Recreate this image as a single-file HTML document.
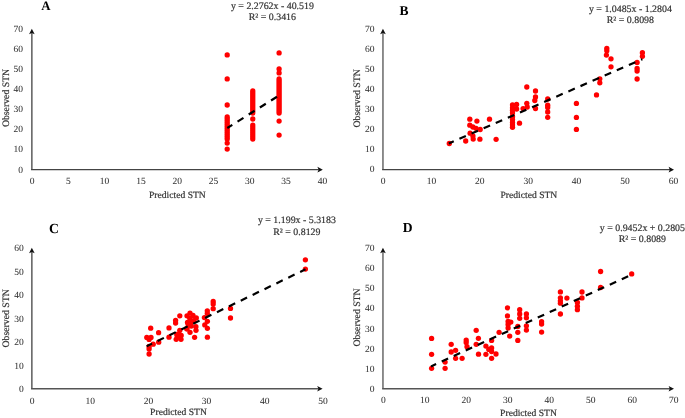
<!DOCTYPE html><html><head><meta charset="utf-8"><style>html,body{margin:0;padding:0;background:#fff;width:685px;height:418px;overflow:hidden}svg{display:block;will-change:transform}text{font-family:"Liberation Serif",serif;text-rendering:geometricPrecision}.t{fill:#333;stroke:#333;stroke-width:0.2px}.k{stroke-width:0.05px}.l{fill:#000;font-weight:bold}</style></head><body>
<svg width="685" height="418" viewBox="0 0 685 418">
<text class="t k" x="23.0" y="172.5" font-size="9.5" text-anchor="end">0</text>
<text class="t k" x="23.0" y="152.4" font-size="9.5" text-anchor="end">10</text>
<text class="t k" x="23.0" y="132.4" font-size="9.5" text-anchor="end">20</text>
<text class="t k" x="23.0" y="112.3" font-size="9.5" text-anchor="end">30</text>
<text class="t k" x="23.0" y="92.3" font-size="9.5" text-anchor="end">40</text>
<text class="t k" x="23.0" y="72.2" font-size="9.5" text-anchor="end">50</text>
<text class="t k" x="23.0" y="52.1" font-size="9.5" text-anchor="end">60</text>
<text class="t k" x="23.0" y="32.1" font-size="9.5" text-anchor="end">70</text>
<text class="t k" x="32.0" y="183.6" font-size="9.5" text-anchor="middle">0</text>
<text class="t k" x="68.3" y="183.6" font-size="9.5" text-anchor="middle">5</text>
<text class="t k" x="104.6" y="183.6" font-size="9.5" text-anchor="middle">10</text>
<text class="t k" x="140.9" y="183.6" font-size="9.5" text-anchor="middle">15</text>
<text class="t k" x="177.2" y="183.6" font-size="9.5" text-anchor="middle">20</text>
<text class="t k" x="213.5" y="183.6" font-size="9.5" text-anchor="middle">25</text>
<text class="t k" x="249.8" y="183.6" font-size="9.5" text-anchor="middle">30</text>
<text class="t k" x="286.1" y="183.6" font-size="9.5" text-anchor="middle">35</text>
<text class="t k" x="322.4" y="183.6" font-size="9.5" text-anchor="middle">40</text>
<text class="t" x="177.4" y="198.3" font-size="9.6" text-anchor="middle">Predicted STN</text>
<text class="t" transform="translate(8.8,98.0) rotate(-90)" font-size="9.75" text-anchor="middle">Observed STN</text>
<text class="l" x="41.20" y="9.70" font-size="12.9">A</text>
<text class="t" x="272.4" y="8.9" font-size="9.9" text-anchor="middle">y = 2.2762x - 40.519</text>
<text class="t" x="272.4" y="19.6" font-size="9.9" text-anchor="middle">R² = 0.3416</text>
<circle cx="227.2" cy="149.1" r="2.65" fill="#f00"/>
<circle cx="227.2" cy="143.1" r="2.65" fill="#f00"/>
<circle cx="227.2" cy="139.1" r="2.65" fill="#f00"/>
<circle cx="227.2" cy="137.1" r="2.65" fill="#f00"/>
<circle cx="227.2" cy="135.1" r="2.65" fill="#f00"/>
<circle cx="227.2" cy="133.1" r="2.65" fill="#f00"/>
<circle cx="227.2" cy="131.1" r="2.65" fill="#f00"/>
<circle cx="227.2" cy="129.1" r="2.65" fill="#f00"/>
<circle cx="227.2" cy="127.1" r="2.65" fill="#f00"/>
<circle cx="227.2" cy="125.1" r="2.65" fill="#f00"/>
<circle cx="227.2" cy="123.1" r="2.65" fill="#f00"/>
<circle cx="227.2" cy="121.1" r="2.65" fill="#f00"/>
<circle cx="227.2" cy="119.0" r="2.65" fill="#f00"/>
<circle cx="227.2" cy="117.0" r="2.65" fill="#f00"/>
<circle cx="227.2" cy="105.0" r="2.65" fill="#f00"/>
<circle cx="227.2" cy="78.9" r="2.65" fill="#f00"/>
<circle cx="227.2" cy="54.9" r="2.65" fill="#f00"/>
<circle cx="252.8" cy="139.1" r="2.65" fill="#f00"/>
<circle cx="252.8" cy="137.1" r="2.65" fill="#f00"/>
<circle cx="252.8" cy="135.1" r="2.65" fill="#f00"/>
<circle cx="252.8" cy="133.1" r="2.65" fill="#f00"/>
<circle cx="252.8" cy="131.1" r="2.65" fill="#f00"/>
<circle cx="252.8" cy="129.1" r="2.65" fill="#f00"/>
<circle cx="252.8" cy="127.1" r="2.65" fill="#f00"/>
<circle cx="252.8" cy="125.1" r="2.65" fill="#f00"/>
<circle cx="252.8" cy="119.0" r="2.65" fill="#f00"/>
<circle cx="252.8" cy="113.0" r="2.65" fill="#f00"/>
<circle cx="252.8" cy="111.0" r="2.65" fill="#f00"/>
<circle cx="252.8" cy="109.0" r="2.65" fill="#f00"/>
<circle cx="252.8" cy="107.0" r="2.65" fill="#f00"/>
<circle cx="252.8" cy="105.0" r="2.65" fill="#f00"/>
<circle cx="252.8" cy="103.0" r="2.65" fill="#f00"/>
<circle cx="252.8" cy="101.0" r="2.65" fill="#f00"/>
<circle cx="252.8" cy="99.0" r="2.65" fill="#f00"/>
<circle cx="252.8" cy="97.0" r="2.65" fill="#f00"/>
<circle cx="252.8" cy="95.0" r="2.65" fill="#f00"/>
<circle cx="252.8" cy="93.0" r="2.65" fill="#f00"/>
<circle cx="252.8" cy="91.0" r="2.65" fill="#f00"/>
<circle cx="279.1" cy="135.1" r="2.65" fill="#f00"/>
<circle cx="279.1" cy="121.1" r="2.65" fill="#f00"/>
<circle cx="279.1" cy="113.0" r="2.65" fill="#f00"/>
<circle cx="279.1" cy="111.0" r="2.65" fill="#f00"/>
<circle cx="279.1" cy="109.0" r="2.65" fill="#f00"/>
<circle cx="279.1" cy="107.0" r="2.65" fill="#f00"/>
<circle cx="279.1" cy="105.0" r="2.65" fill="#f00"/>
<circle cx="279.1" cy="103.0" r="2.65" fill="#f00"/>
<circle cx="279.1" cy="101.0" r="2.65" fill="#f00"/>
<circle cx="279.1" cy="99.0" r="2.65" fill="#f00"/>
<circle cx="279.1" cy="97.0" r="2.65" fill="#f00"/>
<circle cx="279.1" cy="95.0" r="2.65" fill="#f00"/>
<circle cx="279.1" cy="93.0" r="2.65" fill="#f00"/>
<circle cx="279.1" cy="91.0" r="2.65" fill="#f00"/>
<circle cx="279.1" cy="89.0" r="2.65" fill="#f00"/>
<circle cx="279.1" cy="87.0" r="2.65" fill="#f00"/>
<circle cx="279.1" cy="84.9" r="2.65" fill="#f00"/>
<circle cx="279.1" cy="82.9" r="2.65" fill="#f00"/>
<circle cx="279.1" cy="80.9" r="2.65" fill="#f00"/>
<circle cx="279.1" cy="78.9" r="2.65" fill="#f00"/>
<circle cx="279.1" cy="72.9" r="2.65" fill="#f00"/>
<circle cx="279.1" cy="68.9" r="2.65" fill="#f00"/>
<circle cx="279.1" cy="52.9" r="2.65" fill="#f00"/>
<line x1="227.3" y1="128.0" x2="278.8" y2="95.6" stroke="#000" stroke-width="2.2" stroke-dasharray="7,6.2" stroke-dashoffset="1.1"/>
<line x1="31.85" y1="169.65" x2="31.85" y2="32.8" stroke="#666" stroke-width="1.6"/>
<line x1="31.05" y1="169.65" x2="318.8" y2="169.65" stroke="#444" stroke-width="1.4"/>
<path d="M31.85,28.80 L34.65,34.20 L31.85,33.00 L29.05,34.20 Z" fill="#111"/>
<path d="M322.80,169.65 L317.40,166.85 L318.60,169.65 L317.40,172.45 Z" fill="#111"/>
<text class="t k" x="374.5" y="172.4" font-size="9.5" text-anchor="end">0</text>
<text class="t k" x="374.5" y="152.3" font-size="9.5" text-anchor="end">10</text>
<text class="t k" x="374.5" y="132.3" font-size="9.5" text-anchor="end">20</text>
<text class="t k" x="374.5" y="112.2" font-size="9.5" text-anchor="end">30</text>
<text class="t k" x="374.5" y="92.2" font-size="9.5" text-anchor="end">40</text>
<text class="t k" x="374.5" y="72.1" font-size="9.5" text-anchor="end">50</text>
<text class="t k" x="374.5" y="52.0" font-size="9.5" text-anchor="end">60</text>
<text class="t k" x="374.5" y="32.0" font-size="9.5" text-anchor="end">70</text>
<text class="t k" x="383.0" y="184.4" font-size="9.5" text-anchor="middle">0</text>
<text class="t k" x="431.4" y="184.4" font-size="9.5" text-anchor="middle">10</text>
<text class="t k" x="479.8" y="184.4" font-size="9.5" text-anchor="middle">20</text>
<text class="t k" x="528.2" y="184.4" font-size="9.5" text-anchor="middle">30</text>
<text class="t k" x="576.6" y="184.4" font-size="9.5" text-anchor="middle">40</text>
<text class="t k" x="625.0" y="184.4" font-size="9.5" text-anchor="middle">50</text>
<text class="t k" x="673.4" y="184.4" font-size="9.5" text-anchor="middle">60</text>
<text class="t" x="528.9" y="198.3" font-size="9.6" text-anchor="middle">Predicted STN</text>
<text class="t" transform="translate(360.1,98.4) rotate(-90)" font-size="9.75" text-anchor="middle">Observed STN</text>
<text class="l" x="399.60" y="14.80" font-size="13.5">B</text>
<text class="t" x="630.4" y="12.3" font-size="9.9" text-anchor="middle">y = 1.0485x - 1.2804</text>
<text class="t" x="630.4" y="23.3" font-size="9.9" text-anchor="middle">R² = 0.8098</text>
<circle cx="449.3" cy="143.5" r="2.65" fill="#f00"/>
<circle cx="465.7" cy="141.0" r="2.65" fill="#f00"/>
<circle cx="469.8" cy="119.2" r="2.65" fill="#f00"/>
<circle cx="476.9" cy="121.1" r="2.65" fill="#f00"/>
<circle cx="469.8" cy="125.2" r="2.65" fill="#f00"/>
<circle cx="472.9" cy="127.0" r="2.65" fill="#f00"/>
<circle cx="476.0" cy="128.3" r="2.65" fill="#f00"/>
<circle cx="480.2" cy="129.5" r="2.65" fill="#f00"/>
<circle cx="470.1" cy="133.2" r="2.65" fill="#f00"/>
<circle cx="472.9" cy="136.0" r="2.65" fill="#f00"/>
<circle cx="473.2" cy="139.1" r="2.65" fill="#f00"/>
<circle cx="479.9" cy="139.2" r="2.65" fill="#f00"/>
<circle cx="489.5" cy="119.2" r="2.65" fill="#f00"/>
<circle cx="496.1" cy="139.3" r="2.65" fill="#f00"/>
<circle cx="512.5" cy="104.9" r="2.65" fill="#f00"/>
<circle cx="512.5" cy="107.8" r="2.65" fill="#f00"/>
<circle cx="512.5" cy="110.2" r="2.65" fill="#f00"/>
<circle cx="512.5" cy="113.0" r="2.65" fill="#f00"/>
<circle cx="512.5" cy="116.7" r="2.65" fill="#f00"/>
<circle cx="512.5" cy="119.6" r="2.65" fill="#f00"/>
<circle cx="512.5" cy="122.4" r="2.65" fill="#f00"/>
<circle cx="512.5" cy="124.9" r="2.65" fill="#f00"/>
<circle cx="512.5" cy="127.3" r="2.65" fill="#f00"/>
<circle cx="516.6" cy="104.5" r="2.65" fill="#f00"/>
<circle cx="516.6" cy="109.0" r="2.65" fill="#f00"/>
<circle cx="519.5" cy="123.2" r="2.65" fill="#f00"/>
<circle cx="523.1" cy="108.6" r="2.65" fill="#f00"/>
<circle cx="526.8" cy="103.3" r="2.65" fill="#f00"/>
<circle cx="527.2" cy="107.0" r="2.65" fill="#f00"/>
<circle cx="526.8" cy="87.0" r="2.65" fill="#f00"/>
<circle cx="535.5" cy="91.0" r="2.65" fill="#f00"/>
<circle cx="535.5" cy="97.0" r="2.65" fill="#f00"/>
<circle cx="535.5" cy="108.5" r="2.65" fill="#f00"/>
<circle cx="534.8" cy="100.5" r="2.65" fill="#f00"/>
<circle cx="547.7" cy="98.9" r="2.65" fill="#f00"/>
<circle cx="547.7" cy="105.2" r="2.65" fill="#f00"/>
<circle cx="547.7" cy="107.5" r="2.65" fill="#f00"/>
<circle cx="547.7" cy="112.0" r="2.65" fill="#f00"/>
<circle cx="547.7" cy="117.3" r="2.65" fill="#f00"/>
<circle cx="576.4" cy="103.4" r="2.65" fill="#f00"/>
<circle cx="576.4" cy="117.4" r="2.65" fill="#f00"/>
<circle cx="576.4" cy="129.4" r="2.65" fill="#f00"/>
<circle cx="596.5" cy="94.9" r="2.65" fill="#f00"/>
<circle cx="599.8" cy="78.8" r="2.65" fill="#f00"/>
<circle cx="599.8" cy="82.8" r="2.65" fill="#f00"/>
<circle cx="606.8" cy="48.4" r="2.65" fill="#f00"/>
<circle cx="606.8" cy="50.8" r="2.65" fill="#f00"/>
<circle cx="606.4" cy="55.1" r="2.65" fill="#f00"/>
<circle cx="611.0" cy="58.8" r="2.65" fill="#f00"/>
<circle cx="611.0" cy="66.8" r="2.65" fill="#f00"/>
<circle cx="642.4" cy="52.7" r="2.65" fill="#f00"/>
<circle cx="642.4" cy="56.3" r="2.65" fill="#f00"/>
<circle cx="637.1" cy="62.4" r="2.65" fill="#f00"/>
<circle cx="637.1" cy="68.4" r="2.65" fill="#f00"/>
<circle cx="637.1" cy="71.0" r="2.65" fill="#f00"/>
<circle cx="637.1" cy="79.0" r="2.65" fill="#f00"/>
<line x1="448.8" y1="143.4" x2="642.4" y2="59.2" stroke="#000" stroke-width="2.2" stroke-dasharray="7,6.2" stroke-dashoffset="1.6"/>
<line x1="382.95" y1="169.65" x2="382.95" y2="32.9" stroke="#727272" stroke-width="1.6"/>
<line x1="382.15" y1="169.65" x2="670.0" y2="169.65" stroke="#444" stroke-width="1.4"/>
<path d="M382.95,28.85 L385.75,34.25 L382.95,33.05 L380.15,34.25 Z" fill="#111"/>
<path d="M674.00,169.65 L668.60,166.85 L669.80,169.65 L668.60,172.45 Z" fill="#111"/>
<text class="t k" x="23.8" y="392.0" font-size="9.5" text-anchor="end">0</text>
<text class="t k" x="23.8" y="368.5" font-size="9.5" text-anchor="end">10</text>
<text class="t k" x="23.8" y="345.0" font-size="9.5" text-anchor="end">20</text>
<text class="t k" x="23.8" y="321.6" font-size="9.5" text-anchor="end">30</text>
<text class="t k" x="23.8" y="298.1" font-size="9.5" text-anchor="end">40</text>
<text class="t k" x="23.8" y="274.6" font-size="9.5" text-anchor="end">50</text>
<text class="t k" x="23.8" y="251.1" font-size="9.5" text-anchor="end">60</text>
<text class="t k" x="32.0" y="403.5" font-size="9.5" text-anchor="middle">0</text>
<text class="t k" x="90.2" y="403.5" font-size="9.5" text-anchor="middle">10</text>
<text class="t k" x="148.4" y="403.5" font-size="9.5" text-anchor="middle">20</text>
<text class="t k" x="206.6" y="403.5" font-size="9.5" text-anchor="middle">30</text>
<text class="t k" x="264.8" y="403.5" font-size="9.5" text-anchor="middle">40</text>
<text class="t k" x="323.0" y="403.5" font-size="9.5" text-anchor="middle">50</text>
<text class="t" x="178.5" y="415.4" font-size="9.6" text-anchor="middle">Predicted STN</text>
<text class="t" transform="translate(8.8,318.4) rotate(-90)" font-size="9.75" text-anchor="middle">Observed STN</text>
<text class="l" x="49.00" y="232.50" font-size="13.8">C</text>
<text class="t" x="296.9" y="223.0" font-size="9.9" text-anchor="middle">y = 1.199x - 5.3183</text>
<text class="t" x="296.9" y="234.6" font-size="9.9" text-anchor="middle">R² = 0.8129</text>
<circle cx="149.1" cy="354.0" r="2.65" fill="#f00"/>
<circle cx="149.1" cy="349.0" r="2.65" fill="#f00"/>
<circle cx="149.1" cy="346.5" r="2.65" fill="#f00"/>
<circle cx="153.2" cy="344.2" r="2.65" fill="#f00"/>
<circle cx="158.7" cy="342.2" r="2.65" fill="#f00"/>
<circle cx="146.8" cy="337.4" r="2.65" fill="#f00"/>
<circle cx="151.0" cy="337.4" r="2.65" fill="#f00"/>
<circle cx="149.1" cy="339.4" r="2.65" fill="#f00"/>
<circle cx="150.7" cy="328.2" r="2.65" fill="#f00"/>
<circle cx="158.6" cy="332.7" r="2.65" fill="#f00"/>
<circle cx="169.0" cy="327.9" r="2.65" fill="#f00"/>
<circle cx="169.0" cy="337.2" r="2.65" fill="#f00"/>
<circle cx="179.8" cy="315.8" r="2.65" fill="#f00"/>
<circle cx="175.6" cy="320.4" r="2.65" fill="#f00"/>
<circle cx="175.6" cy="323.1" r="2.65" fill="#f00"/>
<circle cx="179.8" cy="330.3" r="2.65" fill="#f00"/>
<circle cx="176.8" cy="334.5" r="2.65" fill="#f00"/>
<circle cx="176.2" cy="339.3" r="2.65" fill="#f00"/>
<circle cx="181.0" cy="339.3" r="2.65" fill="#f00"/>
<circle cx="179.8" cy="336.3" r="2.65" fill="#f00"/>
<circle cx="190.0" cy="313.2" r="2.65" fill="#f00"/>
<circle cx="187.0" cy="315.8" r="2.65" fill="#f00"/>
<circle cx="193.0" cy="315.4" r="2.65" fill="#f00"/>
<circle cx="196.3" cy="318.0" r="2.65" fill="#f00"/>
<circle cx="187.5" cy="322.5" r="2.65" fill="#f00"/>
<circle cx="191.1" cy="322.5" r="2.65" fill="#f00"/>
<circle cx="195.9" cy="326.7" r="2.65" fill="#f00"/>
<circle cx="187.0" cy="329.1" r="2.65" fill="#f00"/>
<circle cx="190.0" cy="332.3" r="2.65" fill="#f00"/>
<circle cx="196.0" cy="330.3" r="2.65" fill="#f00"/>
<circle cx="194.6" cy="337.3" r="2.65" fill="#f00"/>
<circle cx="204.4" cy="317.6" r="2.65" fill="#f00"/>
<circle cx="207.3" cy="310.8" r="2.65" fill="#f00"/>
<circle cx="207.3" cy="313.5" r="2.65" fill="#f00"/>
<circle cx="207.4" cy="321.3" r="2.65" fill="#f00"/>
<circle cx="204.8" cy="324.9" r="2.65" fill="#f00"/>
<circle cx="207.4" cy="328.3" r="2.65" fill="#f00"/>
<circle cx="207.4" cy="337.2" r="2.65" fill="#f00"/>
<circle cx="213.2" cy="301.5" r="2.65" fill="#f00"/>
<circle cx="213.2" cy="304.0" r="2.65" fill="#f00"/>
<circle cx="213.2" cy="308.7" r="2.65" fill="#f00"/>
<circle cx="230.5" cy="308.4" r="2.65" fill="#f00"/>
<circle cx="230.5" cy="318.0" r="2.65" fill="#f00"/>
<circle cx="305.4" cy="259.8" r="2.65" fill="#f00"/>
<circle cx="305.4" cy="269.1" r="2.65" fill="#f00"/>
<circle cx="189.8" cy="318.3" r="2.65" fill="#f00"/>
<circle cx="188.2" cy="324.5" r="2.65" fill="#f00"/>
<circle cx="186.7" cy="328.4" r="2.65" fill="#f00"/>
<circle cx="191.3" cy="326.1" r="2.65" fill="#f00"/>
<circle cx="193.6" cy="320.7" r="2.65" fill="#f00"/>
<circle cx="178.9" cy="333.9" r="2.65" fill="#f00"/>
<circle cx="177.3" cy="337.0" r="2.65" fill="#f00"/>
<circle cx="181.2" cy="335.4" r="2.65" fill="#f00"/>
<circle cx="178.1" cy="334.7" r="2.65" fill="#f00"/>
<line x1="146.7" y1="346.2" x2="305.5" y2="269.3" stroke="#000" stroke-width="2.2" stroke-dasharray="7,6.2" stroke-dashoffset="1.1"/>
<line x1="31.85" y1="388.80" x2="31.85" y2="251.8" stroke="#666" stroke-width="1.6"/>
<line x1="31.05" y1="388.80" x2="318.6" y2="388.80" stroke="#555" stroke-width="1.6"/>
<path d="M31.85,247.80 L34.65,253.20 L31.85,252.00 L29.05,253.20 Z" fill="#111"/>
<path d="M322.60,388.80 L317.20,386.00 L318.40,388.80 L317.20,391.60 Z" fill="#111"/>
<text class="t k" x="374.5" y="391.8" font-size="9.5" text-anchor="end">0</text>
<text class="t k" x="374.5" y="371.7" font-size="9.5" text-anchor="end">10</text>
<text class="t k" x="374.5" y="351.6" font-size="9.5" text-anchor="end">20</text>
<text class="t k" x="374.5" y="331.5" font-size="9.5" text-anchor="end">30</text>
<text class="t k" x="374.5" y="311.4" font-size="9.5" text-anchor="end">40</text>
<text class="t k" x="374.5" y="291.3" font-size="9.5" text-anchor="end">50</text>
<text class="t k" x="374.5" y="271.2" font-size="9.5" text-anchor="end">60</text>
<text class="t k" x="374.5" y="251.1" font-size="9.5" text-anchor="end">70</text>
<text class="t k" x="383.3" y="403.1" font-size="9.5" text-anchor="middle">0</text>
<text class="t k" x="424.8" y="403.1" font-size="9.5" text-anchor="middle">10</text>
<text class="t k" x="466.3" y="403.1" font-size="9.5" text-anchor="middle">20</text>
<text class="t k" x="507.8" y="403.1" font-size="9.5" text-anchor="middle">30</text>
<text class="t k" x="549.3" y="403.1" font-size="9.5" text-anchor="middle">40</text>
<text class="t k" x="590.8" y="403.1" font-size="9.5" text-anchor="middle">50</text>
<text class="t k" x="632.3" y="403.1" font-size="9.5" text-anchor="middle">60</text>
<text class="t k" x="673.8" y="403.1" font-size="9.5" text-anchor="middle">70</text>
<text class="t" x="528.5" y="416.3" font-size="9.6" text-anchor="middle">Predicted STN</text>
<text class="t" transform="translate(360.2,317.5) rotate(-90)" font-size="9.75" text-anchor="middle">Observed STN</text>
<text class="l" x="402.75" y="231.60" font-size="13.6">D</text>
<text class="t" x="642.4" y="230.7" font-size="9.9" text-anchor="middle">y = 0.9452x + 0.2805</text>
<text class="t" x="642.4" y="241.8" font-size="9.9" text-anchor="middle">R² = 0.8089</text>
<circle cx="431.6" cy="338.4" r="2.65" fill="#f00"/>
<circle cx="431.6" cy="354.3" r="2.65" fill="#f00"/>
<circle cx="431.6" cy="368.3" r="2.65" fill="#f00"/>
<circle cx="445.1" cy="362.1" r="2.65" fill="#f00"/>
<circle cx="445.1" cy="368.3" r="2.65" fill="#f00"/>
<circle cx="451.2" cy="344.3" r="2.65" fill="#f00"/>
<circle cx="451.2" cy="352.0" r="2.65" fill="#f00"/>
<circle cx="455.6" cy="350.3" r="2.65" fill="#f00"/>
<circle cx="455.6" cy="358.3" r="2.65" fill="#f00"/>
<circle cx="462.1" cy="358.3" r="2.65" fill="#f00"/>
<circle cx="466.2" cy="340.1" r="2.65" fill="#f00"/>
<circle cx="466.2" cy="342.4" r="2.65" fill="#f00"/>
<circle cx="467.0" cy="346.7" r="2.65" fill="#f00"/>
<circle cx="476.2" cy="330.3" r="2.65" fill="#f00"/>
<circle cx="478.4" cy="338.3" r="2.65" fill="#f00"/>
<circle cx="476.2" cy="344.3" r="2.65" fill="#f00"/>
<circle cx="478.5" cy="354.2" r="2.65" fill="#f00"/>
<circle cx="485.9" cy="346.1" r="2.65" fill="#f00"/>
<circle cx="485.9" cy="354.3" r="2.65" fill="#f00"/>
<circle cx="491.6" cy="340.4" r="2.65" fill="#f00"/>
<circle cx="491.6" cy="347.9" r="2.65" fill="#f00"/>
<circle cx="491.6" cy="351.5" r="2.65" fill="#f00"/>
<circle cx="496.0" cy="354.0" r="2.65" fill="#f00"/>
<circle cx="491.6" cy="358.3" r="2.65" fill="#f00"/>
<circle cx="488.8" cy="349.4" r="2.65" fill="#f00"/>
<circle cx="499.1" cy="332.3" r="2.65" fill="#f00"/>
<circle cx="507.5" cy="307.8" r="2.65" fill="#f00"/>
<circle cx="507.5" cy="315.9" r="2.65" fill="#f00"/>
<circle cx="508.1" cy="321.5" r="2.65" fill="#f00"/>
<circle cx="510.8" cy="322.1" r="2.65" fill="#f00"/>
<circle cx="508.1" cy="324.5" r="2.65" fill="#f00"/>
<circle cx="508.1" cy="328.0" r="2.65" fill="#f00"/>
<circle cx="509.7" cy="336.1" r="2.65" fill="#f00"/>
<circle cx="519.7" cy="309.7" r="2.65" fill="#f00"/>
<circle cx="519.7" cy="314.0" r="2.65" fill="#f00"/>
<circle cx="519.7" cy="318.3" r="2.65" fill="#f00"/>
<circle cx="517.8" cy="326.4" r="2.65" fill="#f00"/>
<circle cx="517.8" cy="332.3" r="2.65" fill="#f00"/>
<circle cx="517.8" cy="340.4" r="2.65" fill="#f00"/>
<circle cx="526.4" cy="314.0" r="2.65" fill="#f00"/>
<circle cx="526.4" cy="317.8" r="2.65" fill="#f00"/>
<circle cx="526.4" cy="325.8" r="2.65" fill="#f00"/>
<circle cx="526.4" cy="330.1" r="2.65" fill="#f00"/>
<circle cx="541.6" cy="321.7" r="2.65" fill="#f00"/>
<circle cx="541.6" cy="324.1" r="2.65" fill="#f00"/>
<circle cx="541.6" cy="332.1" r="2.65" fill="#f00"/>
<circle cx="560.4" cy="291.9" r="2.65" fill="#f00"/>
<circle cx="560.4" cy="297.8" r="2.65" fill="#f00"/>
<circle cx="560.4" cy="300.8" r="2.65" fill="#f00"/>
<circle cx="560.4" cy="303.2" r="2.65" fill="#f00"/>
<circle cx="566.9" cy="298.1" r="2.65" fill="#f00"/>
<circle cx="560.4" cy="314.0" r="2.65" fill="#f00"/>
<circle cx="582.0" cy="292.0" r="2.65" fill="#f00"/>
<circle cx="582.0" cy="297.9" r="2.65" fill="#f00"/>
<circle cx="577.4" cy="302.4" r="2.65" fill="#f00"/>
<circle cx="577.4" cy="306.2" r="2.65" fill="#f00"/>
<circle cx="577.4" cy="309.7" r="2.65" fill="#f00"/>
<circle cx="600.6" cy="271.5" r="2.65" fill="#f00"/>
<circle cx="600.6" cy="287.5" r="2.65" fill="#f00"/>
<circle cx="631.7" cy="273.9" r="2.65" fill="#f00"/>
<line x1="431.0" y1="366.4" x2="631.5" y2="274.7" stroke="#000" stroke-width="2.2" stroke-dasharray="7,6.2" stroke-dashoffset="1.4"/>
<line x1="382.95" y1="388.75" x2="382.95" y2="251.8" stroke="#727272" stroke-width="1.6"/>
<line x1="382.15" y1="388.75" x2="670.0" y2="388.75" stroke="#555" stroke-width="1.6"/>
<path d="M382.95,247.80 L385.75,253.20 L382.95,252.00 L380.15,253.20 Z" fill="#111"/>
<path d="M674.00,388.75 L668.60,385.95 L669.80,388.75 L668.60,391.55 Z" fill="#111"/>
</svg></body></html>
